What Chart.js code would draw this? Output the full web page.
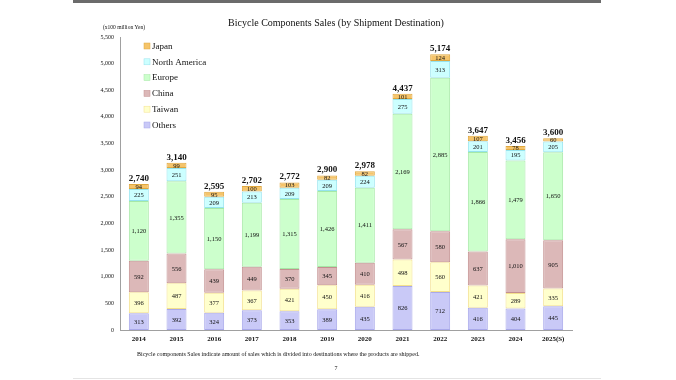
<!DOCTYPE html>
<html>
<head>
<meta charset="utf-8">
<script src="https://cdn.jsdelivr.net/npm/chart.js@4.4.1/dist/chart.umd.min.js"></script>
<style>
  html, body { margin: 0; padding: 0; background: #fff; }
  #wrap { position: relative; width: 676px; height: 380px; overflow: hidden; }
  #topbar { position: absolute; left: 73px; top: 0; width: 528px; height: 3px; background: #6b6b6b; }
  #botline { position: absolute; left: 73px; top: 378px; width: 528px; height: 1px; background: #e4e4e4; }
  canvas { position: absolute; left: 0; top: 0; }
</style>
</head>
<body>
<div id="wrap">
  <canvas id="c" width="676" height="380"></canvas>
  <div id="topbar"></div>
  <div id="botline"></div>
</div>
<script>
const years = ['2014','2015','2016','2017','2018','2019','2020','2021','2022','2023','2024','2025(S)'];
const others = [313,392,324,373,353,389,435,826,712,416,404,445];
const taiwan = [396,487,377,367,421,450,416,498,560,421,289,335];
const china = [592,556,439,449,370,345,410,567,580,637,1010,905];
const europe = [1120,1355,1150,1199,1315,1426,1411,2169,2885,1866,1479,1650];
const northAmerica = [225,251,209,213,209,209,224,275,313,201,195,205];
const japan = [94,99,95,100,103,82,82,101,124,107,78,60];
const totals = [2740,3140,2595,2702,2772,2900,2978,4437,5174,3647,3456,3600];

const SERIF = '"Liberation Serif", "Times New Roman", serif';
const fmt = v => v.toLocaleString('en-US');

const seriesDefs = [
  { label: 'Others', data: others, bg: '#c9c9f7', bd: '#a9a9ea' },
  { label: 'Taiwan', data: taiwan, bg: '#ffffcc', bd: '#f3e08c' },
  { label: 'China', data: china, bg: '#dcb8b8', bd: '#c39090' },
  { label: 'Europe', data: europe, bg: '#ccffcc', bd: '#a6e8a6' },
  { label: 'North America', data: northAmerica, bg: '#ccffff', bd: '#95e3ee' },
  { label: 'Japan', data: japan, bg: '#f5c46a', bd: '#e0a840' }
];

const datasets = seriesDefs.map(s => ({
  label: s.label,
  data: s.data,
  backgroundColor: s.bg,
  borderColor: s.bd,
  borderWidth: 1,
  borderSkipped: false,
  categoryPercentage: 1.0,
  barPercentage: 0.53
}));

const decor = {
  id: 'decor',
  afterDatasetsDraw(chart) {
    const ctx = chart.ctx;
    ctx.save();
    // segment labels
    ctx.fillStyle = '#111';
    ctx.font = '6.5px ' + SERIF;
    ctx.textAlign = 'center';
    ctx.textBaseline = 'middle';
    chart.data.datasets.forEach((ds, di) => {
      const meta = chart.getDatasetMeta(di);
      meta.data.forEach((bar, i) => {
        const y = (bar.y + bar.base) / 2;
        ctx.fillText(fmt(ds.data[i]), bar.x, y + 0.5);
      });
    });
    // totals
    const topMeta = chart.getDatasetMeta(chart.data.datasets.length - 1);
    ctx.font = 'bold 9px ' + SERIF;
    ctx.textBaseline = 'alphabetic';
    topMeta.data.forEach((bar, i) => {
      ctx.fillText(fmt(totals[i]), bar.x, bar.y - 3);
    });
    // legend
    const order = chart.data.datasets.slice().reverse();
    ctx.textAlign = 'left';
    ctx.textBaseline = 'middle';
    ctx.font = '9px ' + SERIF;
    order.forEach((ds, k) => {
      const y = 46 + k * 15.8;
      ctx.fillStyle = ds.backgroundColor;
      ctx.fillRect(144, y - 3, 6, 6);
      ctx.strokeStyle = ds.borderColor;
      ctx.lineWidth = 0.5;
      ctx.strokeRect(144, y - 3, 6, 6);
      ctx.fillStyle = '#111';
      ctx.fillText(ds.label, 152, y + 0.5);
    });
    // title
    ctx.textAlign = 'center';
    ctx.font = '10px ' + SERIF;
    ctx.fillStyle = '#111';
    ctx.fillText('Bicycle Components Sales (by Shipment Destination)', 336, 23);
    // unit
    ctx.font = '5.5px ' + SERIF;
    ctx.fillText('(x100 million Yen)', 124, 28);
    // footnote
    ctx.textAlign = 'left';
    ctx.font = '6px ' + SERIF;
    ctx.fillText('Bicycle components Sales indicate amount of sales which is divided into destinations where the products are shipped.', 137, 354);
    ctx.textAlign = 'center';
    ctx.fillText('7', 336, 368);
    ctx.restore();
  }
};

new Chart(document.getElementById('c'), {
  type: 'bar',
  data: { labels: years, datasets },
  options: {
    responsive: false,
    animation: false,
    layout: { padding: { left: 0, right: 104, top: 37, bottom: 0 } },
    plugins: { legend: { display: false }, tooltip: { enabled: false }, title: { display: false } },
    scales: {
      x: {
        stacked: true,
        grid: { display: false, drawTicks: false },
        border: { display: true, color: '#a0a0a0', width: 1 },
        ticks: { color: '#111', font: { family: SERIF, size: 7, weight: 'bold' }, padding: 5, maxRotation: 0, autoSkip: false },
        afterFit(scale) { scale.height = 50; }
      },
      y: {
        stacked: true,
        min: 0,
        max: 5500,
        grid: { display: false, drawTicks: false },
        border: { display: true, color: '#a0a0a0', width: 1 },
        ticks: { stepSize: 500, color: '#111', font: { family: SERIF, size: 6 }, padding: 6, callback: v => fmt(v) },
        afterFit(scale) { scale.width = 120; }
      }
    }
  },
  plugins: [decor]
});
</script>
</body>
</html>
